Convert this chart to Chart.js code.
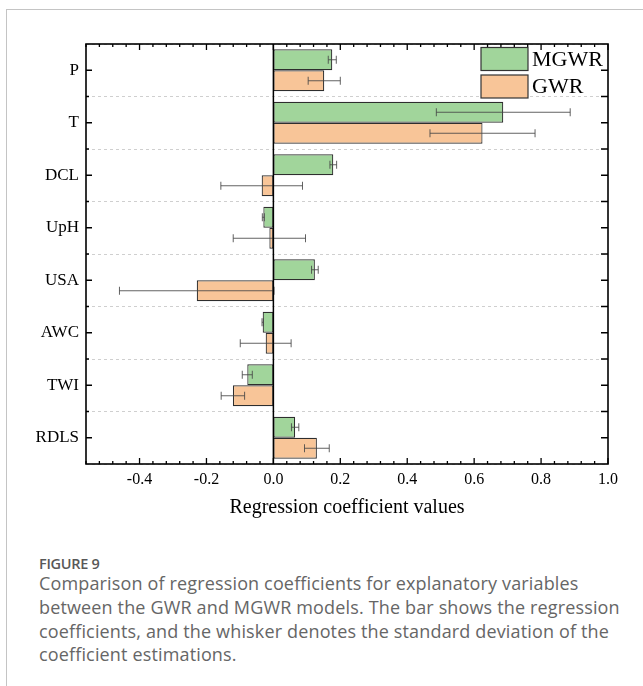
<!DOCTYPE html>
<html>
<head>
<meta charset="utf-8">
<script src="https://cdn.jsdelivr.net/npm/chart.js@4.4.0/dist/chart.umd.min.js"></script>
<style>
  body { margin: 0; background: #fff; width: 643px; height: 686px; overflow: hidden; position: relative; }
  #frame { position: absolute; left: 6px; top: 9px; right: 0; bottom: 0; border-top: 1px solid #c4c4c4; border-left: 1px solid #c4c4c4; }
  #chartBox { position: absolute; left: 0; top: 0; width: 643px; height: 540px; }
  #caption { position: absolute; left: 39px; top: 555px; font-family: "Open Sans", sans-serif; color: #666; white-space: nowrap; }
  #caption .fig { font-size: 14.5px; font-weight: 600; color: #585858; line-height: 18px; letter-spacing: -0.3px; }
  #caption .txt { font-size: 18px; line-height: 23.8px; letter-spacing: 0.15px; margin-top: -1px; }
</style>
</head>
<body>
<div id="frame"></div>
<div id="chartBox"><canvas id="coefChart" width="643" height="540"></canvas></div>
<div id="caption">
  <div class="fig">FIGURE 9</div>
  <div class="txt">Comparison of regression coefficients for explanatory variables<br>between the GWR and MGWR models. The bar shows the regression<br>coefficients, and the whisker denotes the standard deviation of the<br>coefficient estimations.</div>
</div>
<script>
const variables = ['P', 'T', 'DCL', 'UpH', 'USA', 'AWC', 'TWI', 'RDLS'];
const mgwrValues = [0.176, 0.687, 0.179, -0.030, 0.124, -0.032, -0.078, 0.065];
const mgwrSd = [0.012, 0.200, 0.010, 0.003, 0.010, 0.002, 0.015, 0.011];
const gwrValues = [0.152, 0.625, -0.035, -0.012, -0.229, -0.023, -0.121, 0.130];
const gwrSd = [0.048, 0.157, 0.122, 0.108, 0.231, 0.076, 0.035, 0.037];
const xTicks = [-0.4, -0.2, 0.0, 0.2, 0.4, 0.6, 0.8, 1.0];

const serif = '"Liberation Serif", "Times New Roman", serif';

// whiskers drawn through the x scale
const errorBars = {
  id: 'errorBars',
  afterDatasetsDraw(chart) {
    const ctx = chart.ctx;
    const xs = chart.scales.x;
    const sds = [mgwrSd, gwrSd];
    ctx.save();
    ctx.strokeStyle = 'rgba(70,70,70,0.85)';
    ctx.lineWidth = 1;
    chart.data.datasets.forEach((ds, i) => {
      const meta = chart.getDatasetMeta(i);
      meta.data.forEach((bar, j) => {
        const v = ds.data[j], sd = sds[i][j];
        const x1 = xs.getPixelForValue(v - sd);
        const x2 = xs.getPixelForValue(v + sd);
        const y = bar.y, c = 4;
        ctx.beginPath();
        ctx.moveTo(x1, y); ctx.lineTo(x2, y);
        ctx.moveTo(x1, y - c); ctx.lineTo(x1, y + c);
        ctx.moveTo(x2, y - c); ctx.lineTo(x2, y + c);
        ctx.stroke();
      });
    });
    ctx.restore();
  }
};

// box frame, inward ticks, zero line and legend
const frameAndLegend = {
  id: 'frameAndLegend',
  afterDraw(chart) {
    const ctx = chart.ctx;
    const a = chart.chartArea;
    const xs = chart.scales.x, ys = chart.scales.y;
    ctx.save();
    ctx.strokeStyle = '#000';
    ctx.lineWidth = 1.5;
    // zero line
    const x0 = xs.getPixelForValue(0);
    ctx.beginPath(); ctx.moveTo(x0, a.top); ctx.lineTo(x0, a.bottom); ctx.stroke();
    // x ticks (top and bottom)
    ctx.lineWidth = 1.3;
    ctx.beginPath();
    for (let k = Math.ceil(xs.min / 0.04 - 1e-6); k <= Math.floor(xs.max / 0.04 + 1e-6); k++) {
      const px = xs.getPixelForValue(k * 0.04);
      const len = (k % 5 === 0) ? 6 : 3;
      ctx.moveTo(px, a.bottom); ctx.lineTo(px, a.bottom - len);
      ctx.moveTo(px, a.top); ctx.lineTo(px, a.top + len);
    }
    // y ticks (left and right)
    const step = (ys.getPixelForValue(1) - ys.getPixelForValue(0));
    variables.forEach((v, i) => {
      const c = ys.getPixelForValue(i);
      ctx.moveTo(a.left, c); ctx.lineTo(a.left + 6, c);
      ctx.moveTo(a.right, c); ctx.lineTo(a.right - 7, c);
      const b = c + step / 2;
      if (b < a.bottom - 1) {
        ctx.moveTo(a.left, b); ctx.lineTo(a.left + 3, b);
        ctx.moveTo(a.right, b); ctx.lineTo(a.right - 7, b);
      }
    });
    ctx.stroke();
    // frame
    ctx.lineWidth = 1.6;
    ctx.strokeRect(a.left, a.top, a.right - a.left, a.bottom - a.top);
    // legend
    const bx = a.right - 127;
    chart.data.datasets.forEach((ds, i) => {
      const by = a.top + 3.5 + i * 27.5;
      ctx.fillStyle = ds.backgroundColor;
      ctx.fillRect(bx, by, 47, 23);
      ctx.strokeStyle = '#333';
      ctx.lineWidth = 1.2;
      ctx.strokeRect(bx, by, 47, 23);
      ctx.fillStyle = '#000';
      ctx.font = '22px ' + serif;
      ctx.textBaseline = 'middle';
      ctx.textAlign = 'left';
      ctx.fillText(ds.label, bx + 51, by + 12.5);
    });
    ctx.restore();
  }
};

new Chart(document.getElementById('coefChart').getContext('2d'), {
  type: 'bar',
  data: {
    labels: variables,
    datasets: [
      { label: 'MGWR', data: mgwrValues, backgroundColor: 'rgb(161,213,155)', borderColor: '#2e2e2e', borderWidth: 1.2, borderSkipped: false },
      { label: 'GWR', data: gwrValues, backgroundColor: 'rgb(248,197,152)', borderColor: '#2e2e2e', borderWidth: 1.2, borderSkipped: false }
    ]
  },
  options: {
    indexAxis: 'y',
    responsive: false,
    animation: false,
    devicePixelRatio: 1,
    categoryPercentage: 0.8,
    barPercentage: 1,
    layout: { padding: { top: 44, right: 35, left: 0, bottom: 16 } },
    plugins: { legend: { display: false }, tooltip: { enabled: false } },
    scales: {
      x: {
        type: 'linear',
        min: -0.56,
        max: 1.0,
        afterBuildTicks: (s) => { s.ticks = xTicks.map(v => ({ value: v })); },
        afterFit: (s) => { s.height = 60; },
        ticks: {
          callback: (v) => Number(v).toFixed(1),
          font: { family: serif, size: 16 },
          color: '#000',
          padding: 6,
          autoSkip: false,
          maxRotation: 0
        },
        grid: { display: false, drawTicks: false },
        border: { display: false },
        title: {
          display: true,
          text: 'Regression coefficient values',
          font: { family: serif, size: 20 },
          color: '#000',
          padding: { top: 4, bottom: 4 }
        }
      },
      y: {
        type: 'category',
        afterFit: (s) => { s.width = 86; },
        ticks: { font: { family: serif, size: 17 }, color: '#000', padding: 7 },
        grid: { offset: true, drawTicks: false, color: '#cfcfcf', lineWidth: 1 },
        border: { display: false, dash: [3, 3] }
      }
    }
  },
  plugins: [errorBars, frameAndLegend]
});
</script>
</body>
</html>
